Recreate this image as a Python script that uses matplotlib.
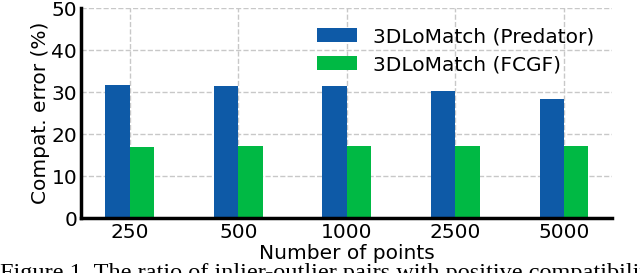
import numpy as np
import matplotlib.pyplot as plt

# data
points = ["250", "500", "1000", "2500", "5000"]
predator = [31.8, 31.6, 31.5, 30.3, 28.3]
fcgf = [17.1, 17.3, 17.3, 17.3, 17.3]

blue = "#0e5aa7"
green = "#00b944"

fig = plt.figure(figsize=(6.4, 2.73), dpi=100)
ax = fig.add_axes([0.127, 0.2, 0.83, 0.77])

x = np.arange(len(points))
w = 0.225
ax.bar(x - w / 2, predator, w, color=blue, label="3DLoMatch (Predator)", zorder=2)
ax.bar(x + w / 2, fcgf, w, color=green, label="3DLoMatch (FCGF)", zorder=2)

ax.set_ylim(0, 50)
ax.set_yticks([0, 10, 20, 30, 40, 50])
ax.set_xticks(x)
ax.set_xticklabels(points)
ax.tick_params(axis="both", length=0, labelsize=14.5, pad=3)
ax.grid(True, linestyle="--", color="#c8c8c8", linewidth=1, zorder=0)
ax.set_axisbelow(True)

for s in ["top", "right"]:
    ax.spines[s].set_visible(False)
for s in ["left", "bottom"]:
    ax.spines[s].set_linewidth(2.5)

ax.set_ylabel("Compat. error (%)", fontsize=14.5, labelpad=1)
ax.set_xlabel("Number of points", fontsize=14.5, labelpad=2)
ax.legend(loc="upper right", frameon=False, fontsize=14.5, handlelength=2.0,
          bbox_to_anchor=(1.0, 0.995), labelspacing=0.45)

fig.text(0.0, 0.035, "Figure 1. The ratio of inlier-outlier pairs with positive compatibility",
         family="Liberation Serif", fontsize=17.5, va="top", ha="left")

fig.savefig("out.png", dpi=100)
